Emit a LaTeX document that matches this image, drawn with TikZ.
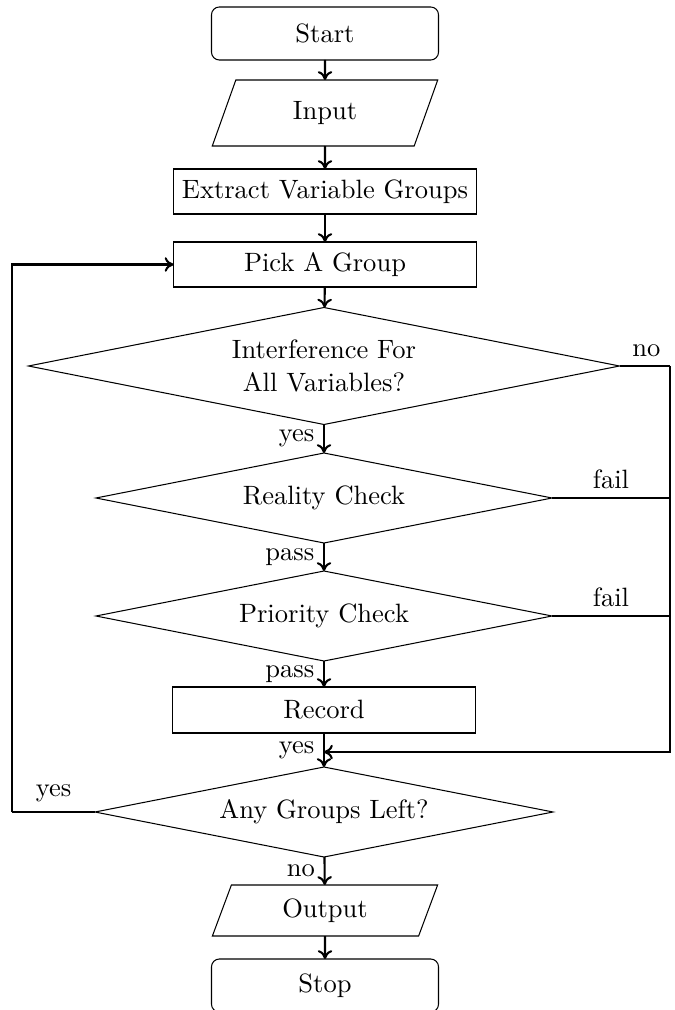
\documentclass[tikz,border=0pt]{standalone}
\usetikzlibrary{shapes.geometric,arrows.meta}
\def\pxu{0.3846pt}
\tikzset{
  base/.style={draw, align=center, inner sep=0pt, outer sep=0pt, font=\fontsize{10.2}{12.4}\selectfont},
  term/.style={base, rectangle, rounded corners=3pt, minimum width=227*\pxu, minimum height=53*\pxu},
  io/.style={base, trapezium, trapezium left angle=70, trapezium right angle=110,
    trapezium stretches=true, minimum width=226*\pxu},
  proc/.style={base, rectangle, minimum width=303*\pxu, minimum height=45*\pxu},
  test/.style={base, diamond, aspect=6, minimum width=456*\pxu, minimum height=90*\pxu},
  flow/.style={thick, -{To[length=3.4pt,width=5.6pt]}},
  wire/.style={thick},
  every label/.style={font=\fontsize{10.2}{12.4}\selectfont},
}
\begin{document}
\begin{tikzpicture}[x=\pxu, y=-\pxu, font=\fontsize{10.2}{12.4}\selectfont]
\useasboundingbox (0,0) rectangle (674,1010);

% blocks, top to bottom
\node[term] (start) at (325,33.5) {Start};
\node[io, minimum height=66*\pxu] (input) at (325,113) {Input};
\node[proc] (extract) at (325,191.5) {Extract Variable Groups};
\node[proc] (pick) at (325,264.5) {Pick A Group};
\node[test, minimum width=591*\pxu, minimum height=117*\pxu] (interf) at (324,366)
  {Interference For\\All Variables?};
\node[test] (reality) at (324,498) {Reality Check};
\node[test] (priority) at (324,616) {Priority Check};
\node[proc, minimum height=46*\pxu] (record) at (324,710) {Record};
\node[test, minimum width=458*\pxu] (any) at (324,812) {Any Groups Left?};
\node[io, minimum height=51*\pxu] (output) at (325,910.5) {Output};
\node[term] (stop) at (325,985.5) {Stop};

% helper points for the side loops
\coordinate (rt) at (670,366);
\coordinate (rb) at (670,752);
\coordinate (mj) at (324,752);
\coordinate (lb) at (12,812);

% main flow
\draw[flow] (start) -- (input);
\draw[flow] (input) -- (extract);
\draw[flow] (extract) -- (pick);
\draw[flow] (pick) -- (interf);
\draw[flow] (interf) -- node[left] {yes} (reality);
\draw[flow] (reality) -- node[left] {pass} (priority);
\draw[flow] (priority) -- node[left] {pass} (record);
\draw[flow] (record) -- node[left] {yes} (any);
\draw[flow] (any) -- node[left] {no} (output);
\draw[flow] (output) -- (stop);

% failure branches back to the join
\draw[wire] (interf.east) -- (rt) node[above left] {no};
\draw[flow] (rt) -- (rb) -- (mj);
\draw[wire] (reality.east) -- node[above] {fail} (reality.east -| rt);
\draw[wire] (priority.east) -- node[above] {fail} (priority.east -| rt);

% loop back for remaining groups
\draw[wire] (any.west) -- node[above] {yes} (lb);
\draw[flow] (lb) |- (pick.west);
\end{tikzpicture}
\end{document}
